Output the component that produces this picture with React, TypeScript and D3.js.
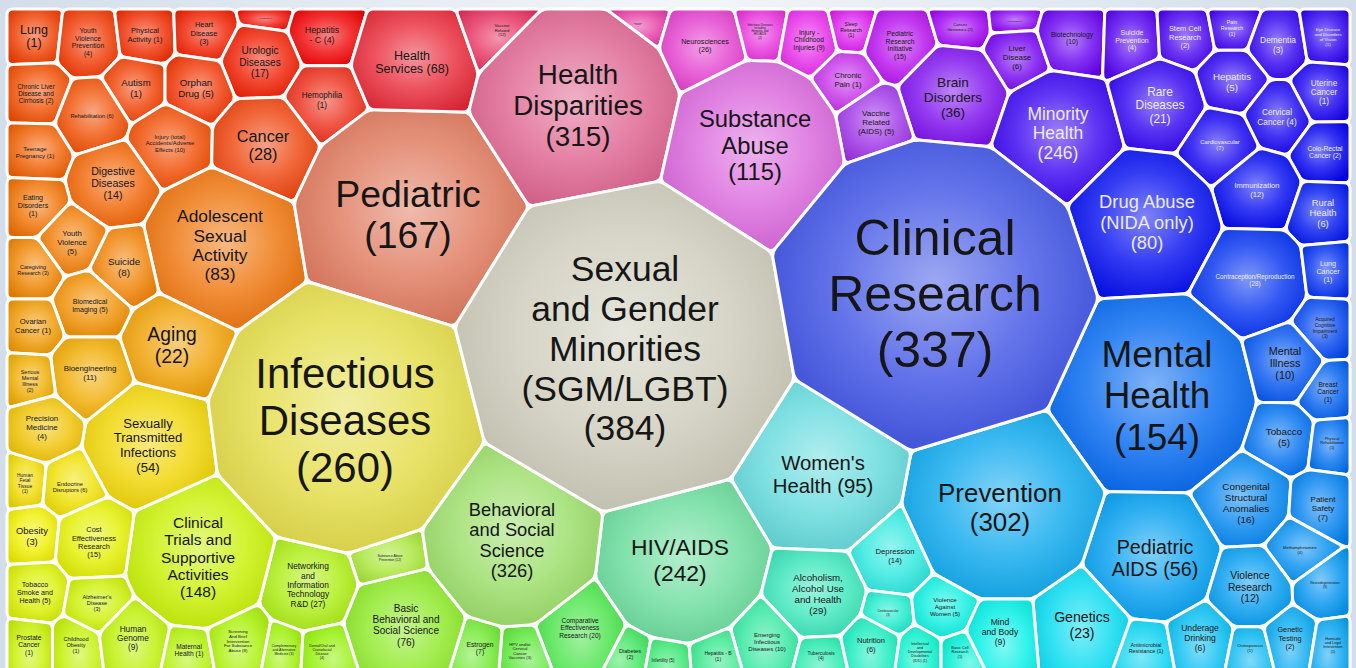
import React, { useRef, useEffect } from 'react';
import * as d3 from 'd3';

const WIDTH = 1356;
const HEIGHT = 668;

// topic labels, '#' gets replaced by the number of projects
const TOPICS: string[] = [
  'Lung\n(#)', 'Youth\nViolence\nPrevention\n(#)', 'Physical\nActivity (#)', 'Heart\nDisease\n(#)', 'Hematology (#)',
  'Hepatitis\n- C (#)', 'Urologic\nDiseases\n(#)', 'Chronic Liver\nDisease and\nCirrhosis (#)', 'Autism\n(#)', 'Orphan\nDrug (#)',
  'Rehabilitation (#)', 'Hemophilia\n(#)', 'Teenage\nPregnancy (#)', 'Injury (total)\nAccidents/Adverse\nEffects (#)', 'Cancer\n(#)',
  'Digestive\nDiseases\n(#)', 'Eating\nDisorders\n(#)', 'Adolescent\nSexual\nActivity\n(#)', 'Pediatric\n(#)', 'Health\nServices (#)',
  'Vaccine\nRelated\n(#)', 'Health\nDisparities\n(#)', 'Chronic Fatigue\nSyndrome\n(#)', 'Neurosciences\n(#)', 'Infectious Diseases\nincluding\nHepatitis and\nHIV/AIDS\n(#)',
  'Injury -\nChildhood\nInjuries (#)', 'Sleep\nResearch\n(#)', 'Pediatric\nResearch\nInitiative\n(#)', 'Chronic\nPain (#)', 'Cancer\nGenomics (#)',
  'Hypertension (#)', 'Liver\nDisease\n(#)', 'Brain\nDisorders\n(#)', 'Vaccine\nRelated\n(AIDS) (#)', 'Substance\nAbuse\n(#)',
  'Biotechnology\n(#)', 'Suicide\nPrevention\n(#)', 'Stem Cell\nResearch\n(#)', 'Pain\nResearch\n(#)', 'Dementia\n(#)',
  'Eye Disease\nand Disorders\nof Vision\n(#)', 'Minority\nHealth\n(#)', 'Rare\nDiseases\n(#)', 'Hepatitis\n(#)', 'Uterine\nCancer\n(#)',
  'Cervical\nCancer (#)', 'Cardiovascular\n(#)', 'Colo-Rectal\nCancer (#)', 'Immunization\n(#)', 'Rural\nHealth\n(#)',
  'Drug Abuse\n(NIDA only)\n(#)', 'Contraception/Reproduction\n(#)', 'Lung\nCancer\n(#)', 'Acquired\nCognitive\nImpairment\n(#)', 'Mental\nHealth\n(#)',
  'Mental\nIllness\n(#)', 'Breast\nCancer\n(#)', 'Tobacco\n(#)', 'Physical\nRehabilitation\n(#)', 'Pediatric\nAIDS (#)',
  'Congenital\nStructural\nAnomalies\n(#)', 'Patient\nSafety\n(#)', 'Methamphetamine\n(#)', 'Violence\nResearch\n(#)', 'Neurodegeneration\n(#)',
  'Genetics\n(#)', 'Antimicrobial\nResistance (#)', 'Underage\nDrinking\n(#)', 'Osteoporosis\n(#)', 'Genetic\nTesting\n(#)',
  'Homicide\nand Legal\nIntervention\n(#)', 'Prevention\n(#)', "Women's\nHealth (#)", 'HIV/AIDS\n(#)', 'Depression\n(#)',
  'Alcoholism,\nAlcohol Use\nand Health\n(#)', 'Cerebrovascular\n(#)', 'Violence\nAgainst\nWomen (#)', 'Mind\nand Body\n(#)', 'Emerging\nInfectious\nDiseases (#)',
  'Tuberculosis\n(#)', 'Nutrition\n(#)', 'Intellectual\nand\nDevelopmental\nDisabilities\n(IDD) (#)', 'Basic Cell\nResearch\n(#)', 'Comparative\nEffectiveness\nResearch (#)',
  'Diabetes\n(#)', 'Infertility (#)', 'Hepatitis - B\n(#)', 'HPV and/or\nCervical\nCancer\nVaccines (#)', 'Estrogen\n(#)',
  'Basic\nBehavioral and\nSocial Science\n(#)', 'Substance Abuse\nPrevention (#)', 'Behavioral\nand Social\nScience\n(#)', 'Networking\nand\nInformation\nTechnology\nR&D (#)', 'Clinical\nTrials and\nSupportive\nActivities\n(#)',
  'Sexually\nTransmitted\nInfections\n(#)', 'Human\nFetal\nTissue\n(#)', 'Endocrine\nDisruptors (#)', 'Obesity\n(#)', 'Cost\nEffectiveness\nResearch\n(#)',
  'Tobacco\nSmoke and\nHealth (#)', "Alzheimer's\nDisease\n(#)", 'Prostate\nCancer\n(#)', 'Childhood\nObesity\n(#)', 'Human\nGenome\n(#)',
  'Maternal\nHealth (#)', 'Screening\nAnd Brief\nIntervention\nFor Substance\nAbuse (#)', 'Complementary\nand Alternative\nMedicine (#)', 'Dental/Oral and\nCraniofacial\nDisease\n(#)', 'Infectious\nDiseases\n(#)',
  'Aging\n(#)', 'Suicide\n(#)', 'Youth\nViolence\n(#)', 'Caregiving\nResearch (#)', 'Biomedical\nImaging (#)',
  'Ovarian\nCancer (#)', 'Bioengineering\n(#)', 'Serious\nMental\nIllness\n(#)', 'Precision\nMedicine\n(#)', 'Sexual\nand Gender\nMinorities\n(SGM/LGBT)\n(#)',
  'Clinical\nResearch\n(#)'
];

const COUNTS: number[] = [
  1, 4, 1, 3, 1,
  4, 17, 2, 1, 5,
  6, 1, 1, 10, 28,
  14, 1, 83, 167, 68,
  12, 315, 1, 26, 2,
  9, 1, 15, 1, 2,
  1, 6, 36, 5, 115,
  10, 4, 2, 1, 3,
  1, 246, 21, 5, 1,
  4, 7, 2, 12, 6,
  80, 28, 1, 3, 154,
  10, 1, 5, 1, 56,
  16, 7, 4, 12, 3,
  23, 1, 6, 1, 2,
  1, 302, 95, 242, 14,
  29, 3, 5, 9, 10,
  4, 6, 1, 1, 20,
  2, 5, 1, 3, 7,
  76, 12, 326, 27, 148,
  54, 1, 6, 3, 15,
  5, 3, 1, 1, 9,
  1, 8, 3, 4, 260,
  22, 8, 5, 3, 5,
  1, 11, 2, 4, 384,
  337
];

// generator sites of the power diagram (layout units): x, y, weight radius
const SITES: [number, number, number][] = [
  [34, 36, 25], [88, 42, 28], [145, 35, 25], [204, 33, 25], [266, 18, 10],
  [322, 35, 26], [260, 62, 34], [36, 94, 28], [136, 88, 28], [196, 88, 30],
  [92, 116, 32], [322, 100, 30], [35, 152, 27], [170, 143, 36], [263, 145, 46],
  [113, 183, 38], [33, 205, 27], [220, 245, 72], [408, 214, 105], [412, 62, 52],
  [502, 30, 24], [578, 105, 95], [638, 25, 17], [705, 45, 38], [760, 31, 22],
  [809, 40, 25], [851, 30, 18], [900, 45, 32], [848, 80, 25], [960, 27, 20],
  [1015, 21, 12], [1017, 57, 26], [953, 97, 50], [876, 122, 32], [755, 145, 82],
  [1072, 38, 30], [1132, 40, 26], [1185, 37, 26], [1232, 28, 20], [1278, 45, 26],
  [1328, 37, 24], [1058, 133, 58], [1160, 105, 42], [1232, 82, 30], [1324, 92, 27],
  [1277, 117, 30], [1220, 145, 35], [1325, 152, 27], [1257, 190, 38], [1323, 213, 28],
  [1147, 222, 68], [1255, 280, 50], [1328, 271, 25], [1325, 328, 28], [1157, 395, 95],
  [1285, 363, 36], [1328, 392, 27], [1284, 437, 30], [1332, 443, 24], [1155, 558, 62],
  [1246, 503, 42], [1323, 508, 32], [1300, 550, 32], [1250, 587, 40], [1325, 585, 30],
  [1082, 625, 45], [1146, 648, 26], [1200, 638, 32], [1250, 648, 22], [1290, 638, 26],
  [1333, 645, 22], [1000, 507, 92], [823, 474, 76], [680, 560, 80], [895, 556, 38],
  [818, 594, 44], [888, 613, 22], [945, 607, 30], [1000, 632, 33], [767, 642, 30],
  [821, 656, 22], [871, 645, 27], [920, 652, 22], [960, 652, 20], [580, 628, 40],
  [630, 654, 18], [663, 660, 16], [718, 656, 17], [520, 651, 22], [480, 648, 23],
  [406, 625, 55], [390, 558, 30], [512, 540, 85], [308, 585, 42], [198, 557, 70],
  [148, 445, 58], [25, 483, 20], [70, 487, 26], [32, 536, 26], [94, 542, 37],
  [35, 592, 28], [97, 603, 28], [29, 645, 23], [76, 645, 23], [133, 638, 32],
  [189, 650, 21], [238, 641, 28], [284, 650, 18], [322, 652, 20], [345, 420, 130],
  [172, 345, 45], [124, 267, 33], [72, 242, 30], [33, 270, 27], [90, 305, 33],
  [33, 326, 25], [90, 373, 37], [30, 381, 24], [42, 427, 30], [625, 348, 160],
  [935, 293, 152]
];

// color wheel center (layout units)
const WHEEL_CENTER: [number, number] = [625, 340];

type Pt = [number, number];

/**
 * 用半平面裁剪凸多边形，保留 a*x + b*y <= c 的部分
 */
function clipHalfPlane(poly: Pt[], a: number, b: number, c: number): Pt[] {
  const out: Pt[] = [];
  for (let k = 0; k < poly.length; k++) {
    const p = poly[k];
    const q = poly[(k + 1) % poly.length];
    const fp = a * p[0] + b * p[1] - c;
    const fq = a * q[0] + b * q[1] - c;
    if (fp <= 0) out.push(p);
    if ((fp < 0 && fq > 0) || (fp > 0 && fq < 0)) {
      const t = fp / (fp - fq);
      out.push([p[0] + t * (q[0] - p[0]), p[1] + t * (q[1] - p[1])]);
    }
  }
  return out;
}

/**
 * power diagram: every cell = bounding box clipped by the radical axis to all other sites
 */
function powerCells(sites: { x: number; y: number; w: number }[], box: Pt[]): Pt[][] {
  return sites.map((si, i) => {
    let poly = box.slice();
    sites.forEach((sj, j) => {
      if (i === j || poly.length === 0) return;
      const a = 2 * (sj.x - si.x);
      const b = 2 * (sj.y - si.y);
      const c = sj.x * sj.x + sj.y * sj.y - si.x * si.x - si.y * si.y - sj.w + si.w;
      poly = clipHalfPlane(poly, a, b, c);
    });
    return poly;
  });
}

// polygon with rounded corners
function roundedPath(raw: Pt[], radius: number): string {
  const poly = raw.filter((p, k) => {
    const q = raw[(k + 1) % raw.length];
    return Math.hypot(q[0] - p[0], q[1] - p[1]) > 0.3;
  });
  const n = poly.length;
  if (n < 3) return '';
  let d = '';
  for (let k = 0; k < n; k++) {
    const prev = poly[(k - 1 + n) % n];
    const cur = poly[k];
    const next = poly[(k + 1) % n];
    const l1 = Math.hypot(prev[0] - cur[0], prev[1] - cur[1]);
    const l2 = Math.hypot(next[0] - cur[0], next[1] - cur[1]);
    const r1 = Math.min(radius, l1 / 2);
    const r2 = Math.min(radius, l2 / 2);
    const x1 = cur[0] + ((prev[0] - cur[0]) * r1) / l1;
    const y1 = cur[1] + ((prev[1] - cur[1]) * r1) / l1;
    const x2 = cur[0] + ((next[0] - cur[0]) * r2) / l2;
    const y2 = cur[1] + ((next[1] - cur[1]) * r2) / l2;
    d += `${k === 0 ? 'M' : 'L'}${x1.toFixed(2)},${y1.toFixed(2)}Q${cur[0].toFixed(2)},${cur[1].toFixed(2)} ${x2.toFixed(2)},${y2.toFixed(2)}`;
  }
  return d + 'Z';
}

function distToPolygon(p: Pt, poly: Pt[]): number {
  let best = Infinity;
  for (let k = 0; k < poly.length; k++) {
    const a = poly[k];
    const b = poly[(k + 1) % poly.length];
    const dx = b[0] - a[0];
    const dy = b[1] - a[1];
    const len2 = dx * dx + dy * dy || 1e-9;
    const t = Math.max(0, Math.min(1, ((p[0] - a[0]) * dx + (p[1] - a[1]) * dy) / len2));
    best = Math.min(best, Math.hypot(p[0] - a[0] - t * dx, p[1] - a[1] - t * dy));
  }
  return best;
}

function hsv(h: number, s: number, v: number) {
  const f = (n: number) => {
    const k = (n + h / 60) % 6;
    return v - v * s * Math.max(0, Math.min(k, 4 - k, 1));
  };
  return d3.rgb(f(5) * 255, f(3) * 255, f(1) * 255);
}

function luminance(c: d3.RGBColor): number {
  const lin = (u: number) => {
    const x = u / 255;
    return x <= 0.04045 ? x / 12.92 : Math.pow((x + 0.055) / 1.055, 2.4);
  };
  return 0.2126 * lin(c.r) + 0.7152 * lin(c.g) + 0.0722 * lin(c.b);
}

const FONT = '"Liberation Sans", Arial, Helvetica, sans-serif';

// 角度 -> 色相 (roughly the wheel used in the picture)
const hueOfAngle = d3
  .scaleLinear()
  .domain([0, 46, 72, 106, 146, 172, 190, 202, 219, 251, 281, 300, 326, 360])
  .range([0, 40, 70, 95, 145, 165, 180, 200, 214, 254, 298, 308, 338, 360]);

function drawTopicMap(svgEl: SVGSVGElement) {
  const svg = d3.select(svgEl);
  svg.selectAll('*').remove();

  const x = d3.scaleLinear().domain([0, 1356]).range([0, WIDTH]);
  const y = d3.scaleLinear().domain([0, 668]).range([0, HEIGHT]);
  const k = x(1) - x(0);

  const left = x(7);
  const right = x(1350);
  const top = y(9);
  const bottom = y(700);

  const defs = svg.append('defs');
  const bg = defs.append('linearGradient').attr('id', 'bg').attr('x1', 0).attr('x2', 1).attr('y1', 0).attr('y2', 0);
  bg.append('stop').attr('offset', '0%').attr('stop-color', '#d3deea');
  bg.append('stop').attr('offset', '50%').attr('stop-color', '#f3f6f9');
  bg.append('stop').attr('offset', '100%').attr('stop-color', '#d3deea');

  svg.append('rect').attr('width', WIDTH).attr('height', HEIGHT).attr('fill', 'url(#bg)');
  svg
    .append('rect')
    .attr('x', left)
    .attr('y', top)
    .attr('width', right - left)
    .attr('height', bottom - top)
    .attr('rx', 8)
    .attr('fill', '#ffffff');

  const sites = SITES.map((s) => ({ x: x(s[0]), y: y(s[1]), w: (s[2] * k) ** 2 }));
  const box: Pt[] = [
    [left, top],
    [right, top],
    [right, bottom],
    [left, bottom]
  ];
  const cells = powerCells(sites, box);

  // 颜色：角度决定色相，离中心的距离决定饱和度
  const cx = x(WHEEL_CENTER[0]);
  const cy = y(WHEEL_CENTER[1]);
  const colors = sites.map((s) => {
    const theta = (Math.atan2(cy - s.y, s.x - cx) * 180) / Math.PI;
    const hue = hueOfAngle((((theta - 135) % 360) + 360) % 360);
    const sat = Math.min(1, Math.hypot(s.x - cx, s.y - cy) / (430 * k));
    const base = hsv(hue, Math.pow(sat, 0.9), 0.79 + 0.15 * sat);
    // warm grey towards the middle
    return d3.rgb(d3.interpolateRgb(base, '#d2cab0')(0.6 * Math.pow(1 - sat, 3)));
  });

  colors.forEach((c, i) => {
    const g = defs
      .append('radialGradient')
      .attr('id', `cell${i}`)
      .attr('cx', '50%')
      .attr('cy', '46%')
      .attr('r', '62%');
    g.append('stop').attr('offset', '0%').attr('stop-color', d3.interpolateRgb(c, '#ffffff')(0.5));
    g.append('stop').attr('offset', '50%').attr('stop-color', d3.interpolateRgb(c, '#ffffff')(0.2));
    g.append('stop').attr('offset', '100%').attr('stop-color', c.darker(0.25).formatHex());
  });

  svg
    .append('g')
    .selectAll('path')
    .data(cells)
    .enter()
    .append('path')
    .attr('d', (d) => roundedPath(d, 6 * k))
    .attr('fill', (d, i) => `url(#cell${i})`)
    .attr('stroke', '#ffffff')
    .attr('stroke-width', 3 * k)
    .attr('stroke-linejoin', 'round');

  // 文字：按单元格内切圆缩放
  const ctx = document.createElement('canvas').getContext('2d') as CanvasRenderingContext2D;
  ctx.font = `100px ${FONT}`;
  const labels = svg.append('g').attr('font-family', FONT).attr('text-anchor', 'middle');
  TOPICS.forEach((topic, i) => {
    const poly = cells[i];
    if (poly.length < 3) return;
    const lines = topic.replace('#', String(COUNTS[i])).split('\n');
    const wEm = d3.max(lines, (l) => ctx.measureText(l).width / 100) as number;
    const p: Pt = [sites[i].x, sites[i].y];
    const rho = distToPolygon(p, poly);
    const lh = 1.12;
    const fit = 0.72 + 0.22 * Math.min(1, rho / (120 * k));
    const size = Math.min(60, (fit * rho) / Math.hypot(wEm / 2, (lines.length * lh) / 2));
    const lum = luminance(colors[i]);
    const text = labels
      .append('text')
      .attr('font-size', size.toFixed(2))
      .attr('fill', lum < 0.09 ? '#ececfa' : '#161616');
    lines.forEach((line, j) => {
      text
        .append('tspan')
        .attr('x', p[0])
        .attr('y', p[1] + (j - (lines.length - 1) / 2) * lh * size + 0.36 * size)
        .text(line);
    });
  });
}

export default function App(): JSX.Element {
  const svgRef = useRef<SVGSVGElement>(null);

  useEffect(() => {
    const svgEl = svgRef.current;
    if (svgEl == null) {
      return;
    }
    drawTopicMap(svgEl);
  }, []);

  return (
    <div style={{ position: 'absolute', left: 0, top: 0 }}>
      <svg ref={svgRef} width={WIDTH} height={HEIGHT} style={{ display: 'block' }} />
    </div>
  );
}
